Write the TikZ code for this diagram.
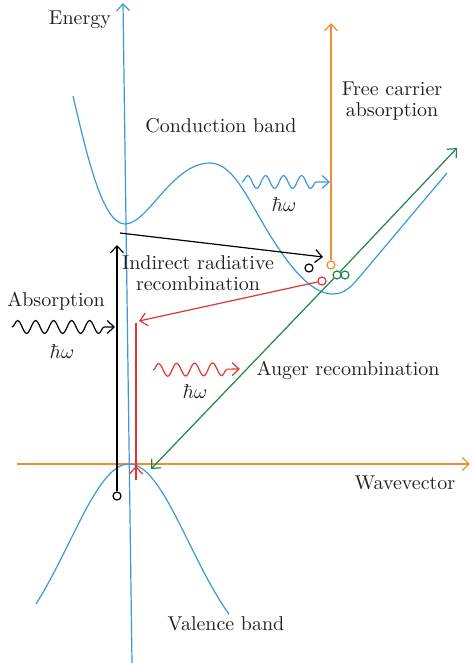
\documentclass[tikz,border=0pt]{standalone}
\usetikzlibrary{arrows.meta,decorations.pathmorphing}
\definecolor{bandblue}{HTML}{3A99DA}
\definecolor{fcorange}{HTML}{F28C30}
\definecolor{radred}{HTML}{E2352F}
\definecolor{augreen}{HTML}{1F8447}
\definecolor{txtgray}{HTML}{231F20}
\begin{document}
\begin{tikzpicture}[x=0.5pt,y=-0.5pt,line width=0.6pt,
  >={Straight Barb[length=3.5pt,width=6.5pt]},
  lbl/.style={text=txtgray,font=\fontsize{10}{10.5}\selectfont,align=center},
  hole/.style={circle,draw,fill=white,inner sep=0pt,minimum size=4pt},
  photon/.style={decorate,decoration={snake,amplitude=3.2pt,segment length=9pt,post length=3pt}}]
\useasboundingbox (0,0) rectangle (471,663);
% axes
\coordinate (eTop) at (123,3);
\coordinate (eBot) at (132,663);
\draw[bandblue,->] (eBot) -- (eTop);
\coordinate (kL) at (17,464);
\coordinate (kR) at (470,464);
\draw[fcorange,->] (kL) -- (kR);
% bands
\draw[bandblue] (73,96) .. controls (88,160) and (103,224) .. (125,224)
  .. controls (148,224) and (172,163) .. (210,163)
  .. controls (235,163) and (250,205) .. (275,243)
  .. controls (292,269) and (312,294) .. (333,294)
  .. controls (345,294) and (352,286) .. (362,274) -- (447,173);
\draw[bandblue] plot[domain=36:229,samples=80] (\x,{464+200*(1-exp(-((\x-129)^2)/7200))});
% labels
\node[lbl] (energy) at (80,20) {Energy};
\node[lbl] (cband) at (221,126) {Conduction band};
\node[lbl] (fca) at (392,101) {Free carrier\\absorption};
\node[lbl] (irr) at (198,273) {Indirect radiative\\recombination};
\node[lbl] (absl) at (56,301) {Absorption};
\node[lbl] (auger) at (348,370) {Auger recombination};
\node[lbl] (vband) at (226,624) {Valence band};
\node[lbl] (wvec) at (405,483) {Wavevector};
% absorption
\node[hole,draw=black] (eAbs) at (117,496) {};
\coordinate (absTop) at (117,245);
\draw[->] (eAbs) -- (absTop);
\coordinate (absW1) at (12,327);
\coordinate (absW2) at (115,327);
\draw[photon,->] (absW1) -- (absW2);
\node[lbl] (hwAbs) at (62,352) {$\hbar\omega$};
% indirect transition
\coordinate (indStart) at (120,233);
\coordinate (indEnd) at (323,257);
\draw[->] (indStart) -- (indEnd);
\node[hole,draw=black] (eInd) at (309,268) {};
% free carrier absorption
\node[hole,draw=fcorange] (eFc) at (331,265) {};
\coordinate (fcTop) at (331,23);
\draw[fcorange,->] (eFc) -- (fcTop);
\coordinate (fcW1) at (242,182);
\coordinate (fcW2) at (330,182);
\draw[bandblue,photon,->] (fcW1) -- (fcW2);
\node[lbl] (hwFc) at (284,205) {$\hbar\omega$};
% radiative recombination
\node[hole,draw=radred] (eRad) at (322,281) {};
\coordinate (radEnd) at (139,321);
\draw[radred,->] (eRad) -- (radEnd);
\coordinate (radTop) at (136,323);
\coordinate (radBot) at (136,480);
\coordinate (radTip) at (136,466);
\draw[radred] (radTop) -- (radBot);
\draw[radred,->] (radBot) -- (radTip);
\coordinate (radW1) at (153,370);
\coordinate (radW2) at (240,369);
\draw[radred,photon,->] (radW1) -- (radW2);
\node[lbl] (hwRad) at (195,392) {$\hbar\omega$};
% Auger recombination
\node[hole,draw=augreen] (eAug1) at (337,275) {};
\node[hole,draw=augreen] (eAug2) at (345,275) {};
\coordinate (augTop) at (457,148);
\coordinate (augBot) at (151,469);
\draw[augreen,->] (eAug1) -- (augTop);
\draw[augreen,->] (eAug1) -- (augBot);
\end{tikzpicture}
\end{document}
